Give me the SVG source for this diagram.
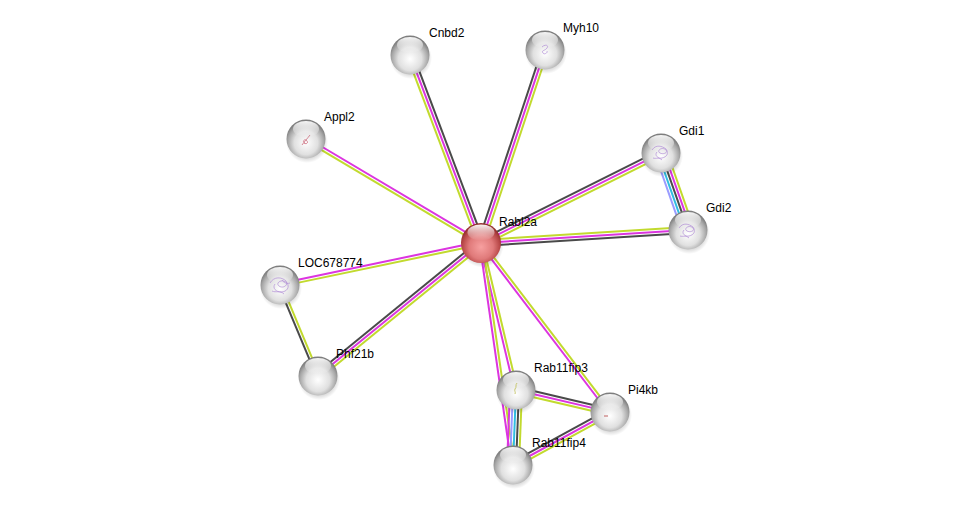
<svg xmlns="http://www.w3.org/2000/svg" width="975" height="510" viewBox="0 0 975 510">
<defs>
<style>
.m{stroke:#dc35e0;stroke-width:2;fill:none}
.g{stroke:#c2da2e;stroke-width:2;fill:none}
.k{stroke:#4a4a4a;stroke-width:2;fill:none}
.c{stroke:#30bde0;stroke-width:2;fill:none}
.b{stroke:#9a9cff;stroke-width:2;fill:none}
.lbl{font-family:"Liberation Sans",Arial,sans-serif;font-size:12px;fill:#000}
.tex{fill:none;stroke:#b38fd6;stroke-width:0.8;opacity:0.9}
</style>
<radialGradient id="gw" cx="50%" cy="60%" r="55%">
<stop offset="0" stop-color="#ffffff"/>
<stop offset="0.55" stop-color="#e0e0e0"/>
<stop offset="0.85" stop-color="#a6a6a6"/>
<stop offset="1" stop-color="#7e7e7e"/>
</radialGradient>
<radialGradient id="gr" cx="50%" cy="60%" r="55%">
<stop offset="0" stop-color="#f7a0a0"/>
<stop offset="0.55" stop-color="#e07a7a"/>
<stop offset="0.85" stop-color="#b84848"/>
<stop offset="1" stop-color="#963030"/>
</radialGradient>
<linearGradient id="hl" x1="0" y1="0" x2="0" y2="1">
<stop offset="0" stop-color="#fff" stop-opacity="0.95"/>
<stop offset="1" stop-color="#fff" stop-opacity="0"/>
</linearGradient>
<radialGradient id="sh" cx="50%" cy="50%" r="50%">
<stop offset="0.6" stop-color="#000" stop-opacity="0.25"/>
<stop offset="1" stop-color="#000" stop-opacity="0"/>
</radialGradient>
<g id="sw">
<circle cx="1" cy="3" r="21" fill="url(#sh)"/>
<circle r="19.5" fill="url(#gw)"/>
<ellipse cx="0" cy="-10" rx="13" ry="8" fill="url(#hl)"/>
</g>
<g id="sr">
<circle cx="1" cy="3" r="21.5" fill="url(#sh)"/>
<circle r="20" fill="url(#gr)"/>
<ellipse cx="0" cy="-10.5" rx="13.5" ry="8" fill="url(#hl)"/>
</g>
</defs>
<rect width="975" height="510" fill="#fff"/>
<g id="edges">
<g transform="translate(481,243) rotate(-110.69)"><line x2="201" y1="-3" y2="-3" class="g"/><line x2="201" class="m"/><line x2="201" y1="3" y2="3" class="k"/></g>
<g transform="translate(481,243) rotate(-71.65)"><line x2="203" y1="-3" y2="-3" class="k"/><line x2="203" class="m"/><line x2="203" y1="3" y2="3" class="g"/></g>
<g transform="translate(481,243) rotate(-149.28)"><line x2="204" y1="1.5" y2="1.5" class="m"/><line x2="204" y1="-1.5" y2="-1.5" class="g"/></g>
<g transform="translate(481,243) rotate(-26.57)"><line x2="201" y1="-3" y2="-3" class="k"/><line x2="201" class="m"/><line x2="201" y1="3" y2="3" class="g"/></g>
<g transform="translate(481,243) rotate(-3.59)"><line x2="207" y1="-3" y2="-3" class="g"/><line x2="207" class="m"/><line x2="207" y1="3" y2="3" class="k"/></g>
<g transform="translate(661,153) rotate(70.67)"><line x2="82" y1="6" y2="6" class="b"/><line x2="82" y1="3" y2="3" class="c"/><line x2="82" class="k"/><line x2="82" y1="-3" y2="-3" class="m"/><line x2="82" y1="-6" y2="-6" class="g"/></g>
<g transform="translate(481,243) rotate(168.2)"><line x2="205" y1="1.5" y2="1.5" class="m"/><line x2="205" y1="-1.5" y2="-1.5" class="g"/></g>
<g transform="translate(481,243) rotate(140.79)"><line x2="210" y1="3" y2="3" class="k"/><line x2="210" class="m"/><line x2="210" y1="-3" y2="-3" class="g"/></g>
<g transform="translate(280,285) rotate(67.33)"><line x2="99" y1="1.5" y2="1.5" class="k"/><line x2="99" y1="-1.5" y2="-1.5" class="g"/></g>
<g transform="translate(481,243) rotate(76.61)"><line x2="151" y1="1.5" y2="1.5" class="m"/><line x2="151" y1="-1.5" y2="-1.5" class="g"/></g>
<g transform="translate(481,243) rotate(81.8)"><line x2="224" y1="1.5" y2="1.5" class="m"/><line x2="224" y1="-1.5" y2="-1.5" class="g"/></g>
<g transform="translate(481,243) rotate(52.65)"><line x2="213" y1="1.5" y2="1.5" class="m"/><line x2="213" y1="-1.5" y2="-1.5" class="g"/></g>
<g transform="translate(516,390) rotate(13.17)"><line x2="97" y1="-3" y2="-3" class="k"/><line x2="97" class="m"/><line x2="97" y1="3" y2="3" class="g"/></g>
<g transform="translate(513,465) rotate(-28.65)"><line x2="110" y1="-3" y2="-3" class="k"/><line x2="110" class="m"/><line x2="110" y1="3" y2="3" class="g"/></g>
<g transform="translate(516,390) rotate(92.29)"><line x2="75" y1="6" y2="6" class="m"/><line x2="75" y1="3" y2="3" class="b"/><line x2="75" class="c"/><line x2="75" y1="-3" y2="-3" class="k"/><line x2="75" y1="-6" y2="-6" class="g"/></g>
</g>
<g id="node-Cnbd2"><use href="#sw" x="410" y="55"/><text class="lbl" x="429" y="37">Cnbd2</text></g>
<g id="node-Myh10"><use href="#sw" x="545" y="50"/><path class="tex" d="M542,47c3,-3 7,-2 5,1c-2,3 -6,2 -4,5c1,2 5,0 4,-2"/><text class="lbl" x="563" y="32">Myh10</text></g>
<g id="node-Appl2"><use href="#sw" x="306" y="139"/><path d="M302,145c2,-3 5,-6 8,-10m-6,8c3,2 5,-1 2,-3c-2,-1 -4,2 -1,3" fill="none" stroke="#d07a8a" stroke-width="0.9"/><text class="lbl" x="324" y="121">Appl2</text></g>
<g id="node-Gdi1"><use href="#sw" x="661" y="153"/><path class="tex" d="M652,150c4,-6 10,-4 14,-1c3,3 -2,6 -6,4c-4,-2 2,-7 6,-3c3,3 1,7 -4,8c-4,1 -8,-3 -5,-6m-4,6c3,1 6,-1 9,2"/><text class="lbl" x="679" y="135">Gdi1</text></g>
<g id="node-Gdi2"><use href="#sw" x="688" y="230"/><path class="tex" d="M679,228c4,-6 10,-4 14,-1c3,3 -2,6 -6,4c-4,-2 2,-7 6,-3c3,3 1,7 -4,8c-4,1 -8,-3 -5,-6m-4,6c3,1 6,-1 9,2"/><text class="lbl" x="706" y="212">Gdi2</text></g>
<g id="node-Rabl2a"><use href="#sr" x="481" y="243"/><text class="lbl" x="499" y="226">Rabl2a</text></g>
<g id="node-LOC678774"><use href="#sw" x="280" y="285"/><path class="tex" d="M270,283c4,-7 12,-6 16,-2c3,4 -3,8 -7,5c-4,-3 3,-8 8,-3c3,4 0,9 -6,9c-5,0 -9,-4 -6,-8m-3,7c4,2 8,-1 12,3m-2,-14c2,3 5,4 8,3"/><text class="lbl" x="298" y="267">LOC678774</text></g>
<g id="node-Phf21b"><use href="#sw" x="318" y="376"/><text class="lbl" x="336" y="358">Phf21b</text></g>
<g id="node-Rab11fip3"><use href="#sw" x="516" y="390"/><path d="M517,383c-2,2 0,4 -2,6c-1,2 1,3 0,5" fill="none" stroke="#c8c870" stroke-width="1"/><text class="lbl" x="534" y="372">Rab11fip3</text></g>
<g id="node-Pi4kb"><use href="#sw" x="610" y="412"/><path d="M604,416h4" stroke="#c06060" stroke-width="1"/><text class="lbl" x="628" y="394">Pi4kb</text></g>
<g id="node-Rab11fip4"><use href="#sw" x="513" y="465"/><text class="lbl" x="532" y="447">Rab11fip4</text></g>
</svg>
